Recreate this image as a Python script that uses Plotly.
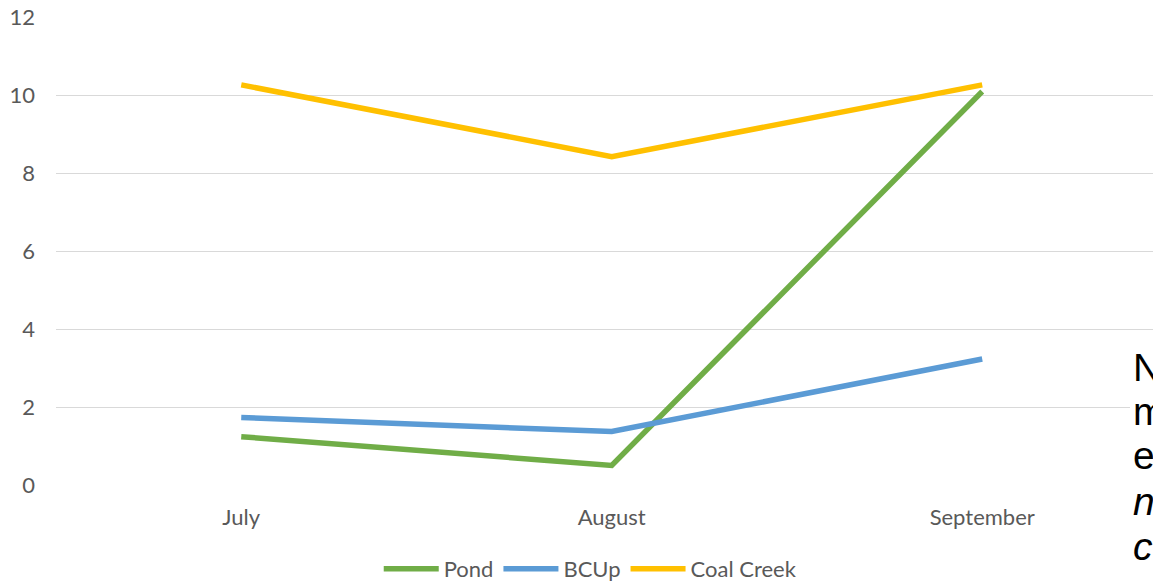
import plotly.graph_objects as go

months = ["July", "August", "September"]
pond = [1.24, 0.50, 10.09]
bcup = [1.73, 1.37, 3.23]
coal_creek = [10.26, 8.42, 10.26]
series_names = ["Pond", "BCUp", "Coal Creek"]
series_colors = ["#70AD47", "#5B9BD5", "#FFC000"]
y_ticks = [0, 2, 4, 6, 8, 10, 12]
side_letters = ["N", "m", "e", "n", "c"]
side_italic = [False, False, False, True, True]

FONT = "Lato, 'Open Sans', sans-serif"
TICK_COLOR = "#595959"
FS = 22

fig = go.Figure()
for name, vals, col in zip(series_names, [pond, bcup, coal_creek], series_colors):
    fig.add_trace(go.Scatter(
        x=list(range(len(months))), y=vals, name=name, mode="lines",
        line=dict(color=col, width=5.5, shape="linear"),
    ))

fig.update_layout(
    width=1153, height=583,
    margin=dict(l=56, r=0, t=17, b=98, autoexpand=False),
    paper_bgcolor="white", plot_bgcolor="white",
    font=dict(family=FONT, size=FS, color=TICK_COLOR),
    showlegend=True,
    legend=dict(orientation="h", x=0.487, xanchor="center",
                yref="container", y=1 - 569 / 583, yanchor="middle",
                font=dict(family=FONT, size=FS, color=TICK_COLOR),
                itemwidth=55, tracegroupgap=0),
    xaxis=dict(
        range=[-0.5, 2.461], tickmode="array", tickvals=list(range(len(months))),
        ticktext=months, showgrid=False, zeroline=False, showline=False,
        ticks="", ticklabelstandoff=17,
        tickfont=dict(family=FONT, size=FS, color=TICK_COLOR),
    ),
    yaxis=dict(
        range=[0, 12], tickmode="array", tickvals=y_ticks,
        showgrid=True, gridcolor="#D9D9D9", gridwidth=1.3, zeroline=False,
        showline=False, ticks="", ticklabelstandoff=20,
        tickfont=dict(family=FONT, size=FS, color=TICK_COLOR),
    ),
)

# white text box at right edge covering gridlines
fig.add_shape(type="rect", xref="paper", yref="paper",
              x0=(1130 - 56) / 1097, x1=1.01, y0=(485 - 478) / 468, y1=(485 - 340) / 468,
              fillcolor="white", line=dict(width=0), layer="above")

baselines = [383, 427, 471, 517, 562]
for letter, ital, base in zip(side_letters, side_italic, baselines):
    txt = f"<i>{letter}</i>" if ital else letter
    fig.add_annotation(
        text=txt, xref="paper", yref="paper",
        x=(1132 - 56) / 1097, xanchor="left",
        y=(485 - base - 7) / 468, yanchor="bottom",
        showarrow=False,
        font=dict(family="Liberation Sans, Arial, sans-serif", size=39, color="#000000"),
        borderpad=0,
    )

fig.write_html("out.html")
